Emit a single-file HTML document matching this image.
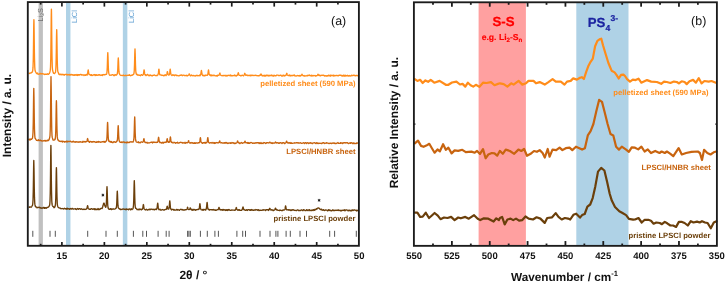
<!DOCTYPE html>
<html><head><meta charset="utf-8"><title>XRD and Raman</title>
<style>html,body{margin:0;padding:0;background:#fff;}body{width:725px;height:282px;overflow:hidden;font-family:"Liberation Sans",sans-serif;}svg{display:block;will-change:transform;}text{text-rendering:geometricPrecision;}</style>
</head><body>
<svg width="725" height="282" viewBox="0 0 725 282" font-family="Liberation Sans, sans-serif">
<rect width="725" height="282" fill="#fff"/>
<rect x="38.6" y="2.1" width="4.3" height="243.70000000000002" fill="#c0c0c0"/>
<rect x="66.0" y="2.1" width="4.45" height="243.70000000000002" fill="#afd2e6"/>
<rect x="122.85" y="2.1" width="4.5" height="243.70000000000002" fill="#afd2e6"/>
<text transform="translate(42.6,21.5) rotate(-90)" font-size="7.3" fill="#707070">Li<tspan font-size="5.2" dy="1.6">2</tspan><tspan dy="-1.6">S</tspan></text>
<text transform="translate(76.7,23) rotate(-90)" font-size="7.5" fill="#5f9fd2">LiCl</text>
<text transform="translate(133.8,23) rotate(-90)" font-size="7.5" fill="#5f9fd2">LiCl</text>
<line x1="32.8" y1="230.8" x2="32.8" y2="236.8" stroke="#555" stroke-width="1"/>
<line x1="50.0" y1="230.8" x2="50.0" y2="236.8" stroke="#555" stroke-width="1"/>
<line x1="55.3" y1="230.8" x2="55.3" y2="236.8" stroke="#555" stroke-width="1"/>
<line x1="87.7" y1="230.8" x2="87.7" y2="236.8" stroke="#555" stroke-width="1"/>
<line x1="106.0" y1="230.8" x2="106.0" y2="236.8" stroke="#555" stroke-width="1"/>
<line x1="117.3" y1="230.8" x2="117.3" y2="236.8" stroke="#555" stroke-width="1"/>
<line x1="133.4" y1="230.8" x2="133.4" y2="236.8" stroke="#555" stroke-width="1"/>
<line x1="142.8" y1="230.8" x2="142.8" y2="236.8" stroke="#555" stroke-width="1"/>
<line x1="146.5" y1="230.8" x2="146.5" y2="236.8" stroke="#555" stroke-width="1"/>
<line x1="158.1" y1="230.8" x2="158.1" y2="236.8" stroke="#555" stroke-width="1"/>
<line x1="166.2" y1="230.8" x2="166.2" y2="236.8" stroke="#555" stroke-width="1"/>
<line x1="169.1" y1="230.8" x2="169.1" y2="236.8" stroke="#555" stroke-width="1"/>
<line x1="187.6" y1="230.8" x2="187.6" y2="236.8" stroke="#555" stroke-width="1"/>
<line x1="188.9" y1="230.8" x2="188.9" y2="236.8" stroke="#555" stroke-width="1"/>
<line x1="190.3" y1="230.8" x2="190.3" y2="236.8" stroke="#555" stroke-width="1"/>
<line x1="200.4" y1="230.8" x2="200.4" y2="236.8" stroke="#555" stroke-width="1"/>
<line x1="207.3" y1="230.8" x2="207.3" y2="236.8" stroke="#555" stroke-width="1"/>
<line x1="214.9" y1="230.8" x2="214.9" y2="236.8" stroke="#555" stroke-width="1"/>
<line x1="218.4" y1="230.8" x2="218.4" y2="236.8" stroke="#555" stroke-width="1"/>
<line x1="236.9" y1="230.8" x2="236.9" y2="236.8" stroke="#555" stroke-width="1"/>
<line x1="242.7" y1="230.8" x2="242.7" y2="236.8" stroke="#555" stroke-width="1"/>
<line x1="245.5" y1="230.8" x2="245.5" y2="236.8" stroke="#555" stroke-width="1"/>
<line x1="260.0" y1="230.8" x2="260.0" y2="236.8" stroke="#555" stroke-width="1"/>
<line x1="270.0" y1="230.8" x2="270.0" y2="236.8" stroke="#555" stroke-width="1"/>
<line x1="275.9" y1="230.8" x2="275.9" y2="236.8" stroke="#555" stroke-width="1"/>
<line x1="277.9" y1="230.8" x2="277.9" y2="236.8" stroke="#555" stroke-width="1"/>
<line x1="286.1" y1="230.8" x2="286.1" y2="236.8" stroke="#555" stroke-width="1"/>
<line x1="290.3" y1="230.8" x2="290.3" y2="236.8" stroke="#555" stroke-width="1"/>
<line x1="300.0" y1="230.8" x2="300.0" y2="236.8" stroke="#555" stroke-width="1"/>
<line x1="306.5" y1="230.8" x2="306.5" y2="236.8" stroke="#555" stroke-width="1"/>
<line x1="329.7" y1="230.8" x2="329.7" y2="236.8" stroke="#555" stroke-width="1"/>
<line x1="334.6" y1="230.8" x2="334.6" y2="236.8" stroke="#555" stroke-width="1"/>
<line x1="356.3" y1="230.8" x2="356.3" y2="236.8" stroke="#555" stroke-width="1"/>
<polyline points="28.5,73.07 28.75,73.13 29,73.19 29.25,73.39 29.5,73.58 29.75,73.32 30,73.05 30.25,73.05 30.5,73.04 30.75,73.04 31,73.02 31.25,72.71 31.5,72.37 31.75,72.38 32,72.31 32.25,72.01 32.5,71.49 32.75,70.28 33,67.67 33.25,60.54 33.4,52.33 33.5,45.05 33.7,28.5 33.75,24.91 33.9,19.57 34,22.08 34.1,28.53 34.25,41.03 34.4,52.41 34.5,58.27 34.75,66.88 35,70.11 35.25,71.07 35.5,71.87 35.75,72.19 36,72.37 36.25,72.99 36.5,73.54 36.75,73.61 37,73.64 37.25,73.36 37.5,73.07 37.75,73.65 38,74.22 38.25,74.25 38.5,74.28 38.75,74.14 39,74 39.25,74.01 39.5,74.01 39.75,73.79 40,73.56 40.25,73.5 40.5,73.44 40.75,73.74 41,74.04 41.25,73.8 41.5,73.56 41.75,73.65 42,73.74 42.25,73.78 42.5,73.82 42.75,73.72 43,73.61 43.25,73.86 43.5,74.11 43.75,74.11 44,74.1 44.25,74.33 44.5,74.56 44.75,74.39 45,74.21 45.25,74.27 45.5,74.33 45.75,74.25 46,74.16 46.25,74.24 46.5,74.31 46.75,74.18 47,74.04 47.25,73.91 47.5,73.77 47.75,74.12 48,74.46 48.25,74.38 48.5,74.29 48.75,74.07 49,73.82 49.25,73.52 49.5,73.13 49.75,72.45 50,71.51 50.25,70.4 50.5,67.24 50.75,58.61 50.9,48.7 51,39.9 51.2,19.93 51.25,15.6 51.4,9.14 51.5,12.15 51.6,19.92 51.75,34.97 51.9,48.68 52,55.73 52.25,66.07 52.5,69.93 52.75,71.08 53,71.73 53.25,72.59 53.5,73.27 53.75,73.25 54,73.16 54.25,73.43 54.5,73.64 54.75,73.27 55,72.8 55.25,72.72 55.5,72.3 55.75,70.05 56,65.19 56.2,56.74 56.25,53.86 56.5,36.98 56.7,29.58 56.75,30.12 56.9,37.02 57,43.89 57.2,56.85 57.25,59.44 57.5,67.9 57.75,71.19 58,71.9 58.25,72.65 58.5,73.16 58.75,73.81 59,74.39 59.25,74.29 59.5,74.16 59.75,74.53 60,74.88 60.25,74.62 60.5,74.34 60.75,74.2 61,74.05 61.25,74.39 61.5,74.72 61.75,74.82 62,74.92 62.25,74.66 62.5,74.4 62.75,74.31 63,74.22 63.25,74.37 63.5,74.51 63.75,74.87 64,75.23 64.25,75.12 64.5,75.01 64.75,74.67 65,74.32 65.25,74.4 65.5,74.48 65.75,74.4 66,74.33 66.25,74.31 66.5,74.3 66.75,74.71 67,75.12 67.25,74.78 67.5,74.44 67.75,74.66 68,74.87 68.25,74.81 68.5,74.76 68.75,74.62 69,74.48 69.25,74.78 69.5,75.08 69.75,74.76 70,74.43 70.25,74.72 70.5,75 70.75,74.71 71,74.43 71.25,74.6 71.5,74.77 71.75,74.66 72,74.55 72.25,74.58 72.5,74.61 72.75,75 73,75.39 73.25,75.3 73.5,75.21 73.75,74.94 74,74.67 74.25,74.99 74.5,75.31 74.75,74.94 75,74.58 75.25,74.68 75.5,74.78 75.75,75.04 76,75.29 76.25,75.18 76.5,75.06 76.75,74.77 77,74.47 77.25,74.96 77.5,75.46 77.75,75.03 78,74.61 78.25,74.63 78.5,74.66 78.75,74.95 79,75.23 79.25,74.99 79.5,74.75 79.75,74.73 80,74.71 80.25,74.59 80.5,74.47 80.75,74.48 81,74.5 81.25,74.77 81.5,75.04 81.75,74.85 82,74.67 82.25,74.87 82.5,75.07 82.75,74.94 83,74.81 83.25,74.86 83.5,74.91 83.75,75.18 84,75.46 84.25,75.2 84.5,74.94 84.75,74.98 85,75.03 85.25,75.18 85.5,75.34 85.75,74.95 86,74.56 86.25,74.52 86.5,74.48 86.75,74.84 87,75.17 87.25,74.52 87.5,73.98 87.7,73.03 87.75,72.7 88,70.81 88.2,69.98 88.25,70.04 88.4,70.81 88.5,71.58 88.7,73.04 88.75,73.33 89,74.28 89.25,74.64 89.5,74.51 89.75,74.55 90,74.56 90.25,74.89 90.5,75.22 90.75,75.34 91,75.47 91.25,75.07 91.5,74.67 91.75,75.09 92,75.51 92.25,75.48 92.5,75.45 92.75,75.3 93,75.15 93.25,75.05 93.5,74.96 93.75,74.78 94,74.61 94.25,74.58 94.5,74.55 94.75,75.06 95,75.57 95.25,75.17 95.5,74.77 95.75,75.03 96,75.29 96.25,75.05 96.5,74.8 96.75,75.12 97,75.43 97.25,75.31 97.5,75.18 97.75,75.02 98,74.85 98.25,74.79 98.5,74.72 98.75,75.02 99,75.33 99.25,74.97 99.5,74.61 99.75,74.7 100,74.79 100.25,74.97 100.5,75.15 100.75,75.31 101,75.47 101.25,75.34 101.5,75.21 101.75,75.02 102,74.83 102.25,75.18 102.5,75.53 102.75,75.13 103,74.73 103.25,74.62 103.5,74.51 103.75,74.63 104,74.76 104.25,74.84 104.5,74.91 104.75,74.67 105,74.42 105.25,74.44 105.5,74.44 105.75,74.46 106,74.44 106.25,74.36 106.5,74.16 106.75,73.46 107,71.81 107.25,67.57 107.3,66.27 107.5,59.76 107.6,56.31 107.75,52.84 107.8,52.58 108,56.31 108.25,64.82 108.3,66.27 108.5,70.54 108.75,73.01 109,73.76 109.25,74.44 109.5,74.96 109.75,75.16 110,75.32 110.25,75.21 110.5,75.09 110.75,75.15 111,75.21 111.25,75.17 111.5,75.14 111.75,74.91 112,74.68 112.25,74.63 112.5,74.58 112.75,74.58 113,74.57 113.25,75.07 113.5,75.56 113.75,75.44 114,75.33 114.25,75.47 114.5,75.6 114.75,75.08 115,74.54 115.25,74.86 115.5,75.18 115.75,75.06 116,74.93 116.25,75 116.5,75.04 116.75,74.67 117,74.21 117.25,73.94 117.5,72.68 117.75,69.43 117.8,68.44 118,63.46 118.1,60.82 118.25,58.17 118.3,57.97 118.5,60.83 118.75,67.33 118.8,68.45 119,71.71 119.25,73.6 119.5,73.83 119.75,74.39 120,74.82 120.25,75.04 120.5,75.23 120.75,75.38 121,75.51 121.25,75.45 121.5,75.39 121.75,75.39 122,75.39 122.25,75.45 122.5,75.51 122.75,75.59 123,75.67 123.25,75.36 123.5,75.06 123.75,75.25 124,75.43 124.25,75.56 124.5,75.68 124.75,75.67 125,75.65 125.25,75.4 125.5,75.16 125.75,75.36 126,75.57 126.25,75.61 126.5,75.65 126.75,75.49 127,75.33 127.25,75.36 127.5,75.39 127.75,75.25 128,75.12 128.25,75.22 128.5,75.33 128.75,75.34 129,75.35 129.25,75.06 129.5,74.76 129.75,75.06 130,75.36 130.25,75.55 130.5,75.73 130.75,75.66 131,75.58 131.25,75.48 131.5,75.37 131.75,75.16 132,74.93 132.25,75.08 132.5,75.21 132.75,75.04 133,74.84 133.25,74.61 133.5,74.29 133.75,74.1 134,73.07 134.25,70.71 134.5,64.9 134.75,55.22 134.8,53.25 135,48.88 135.2,53.25 135.25,55.22 135.5,64.9 135.75,70.71 136,73.08 136.25,73.86 136.5,74.63 136.75,74.48 137,74.25 137.25,74.67 137.5,75.07 137.75,75.06 138,75.05 138.25,74.94 138.5,74.84 138.75,75.12 139,75.39 139.25,75.3 139.5,75.2 139.75,75.27 140,75.34 140.25,75.52 140.5,75.69 140.75,75.32 141,74.96 141.25,74.82 141.5,74.68 141.75,74.83 142,74.97 142.25,75.15 142.5,75.32 142.75,75 143,74.94 143.25,74.61 143.5,73.75 143.6,73.16 143.75,72.02 143.9,70.76 144,70.11 144.1,69.86 144.25,70.4 144.3,70.76 144.5,72.43 144.6,73.16 144.75,73.99 145,74.71 145.25,74.98 145.5,74.72 145.75,75.18 146,75.62 146.25,75.18 146.5,75.16 146.75,75.06 146.9,74.94 147,74.82 147.2,74.57 147.25,74.51 147.4,74.43 147.5,74.47 147.6,74.58 147.75,74.78 147.9,74.97 148,75.06 148.25,75.21 148.5,75.26 148.75,75.47 149,75.73 149.25,75.43 149.5,75.13 149.75,75.32 150,75.51 150.25,75.25 150.5,75 150.75,75.13 151,75.26 151.25,75.47 151.5,75.68 151.75,75.74 152,75.8 152.25,75.78 152.5,75.76 152.75,75.49 153,75.22 153.25,75.33 153.5,75.43 153.75,75.29 154,75.14 154.25,75.04 154.5,74.94 154.75,75.13 155,75.33 155.25,75.51 155.5,75.69 155.75,75.69 156,75.69 156.25,75.6 156.5,75.51 156.75,75.62 157,75.72 157.25,75.31 157.5,74.87 157.75,74.99 158,74.68 158.25,73.85 158.4,72.9 158.5,72.05 158.7,70.12 158.75,69.7 158.9,69.08 159,69.37 159.1,70.12 159.25,71.57 159.4,72.9 159.5,73.58 159.75,74.58 160,74.95 160.25,74.95 160.5,74.93 160.75,74.94 161,74.94 161.25,75.08 161.5,75.2 161.75,75.33 162,75.46 162.25,75.39 162.5,75.33 162.75,75.23 163,75.14 163.25,75.43 163.5,75.71 163.75,75.79 164,75.87 164.25,75.57 164.5,75.28 164.75,75.06 165,74.85 165.25,74.81 165.5,74.77 165.75,75.2 166,75.62 166.25,75.13 166.5,74.95 166.75,74.46 166.9,73.89 167,73.38 167.2,72.24 167.25,71.99 167.4,71.62 167.5,71.79 167.6,72.22 167.75,73.07 167.9,73.84 168,74.24 168.25,74.8 168.5,74.98 168.75,75.16 169,74.95 169.25,74.73 169.5,74.08 169.7,72.94 169.75,72.55 170,70.25 170.2,69.25 170.25,69.32 170.4,70.27 170.5,71.2 170.7,72.97 170.75,73.33 171,74.48 171.25,74.93 171.5,74.9 171.75,75.25 172,75.57 172.25,75.18 172.5,74.78 172.75,74.87 173,74.95 173.25,75.13 173.5,75.32 173.75,75.09 174,74.86 174.25,75.31 174.5,75.76 174.75,75.43 175,75.11 175.25,75.06 175.5,75.01 175.75,74.96 176,74.91 176.25,75.24 176.5,75.56 176.75,75.46 177,75.36 177.25,75.46 177.5,75.57 177.75,75.58 178,75.6 178.25,75.68 178.5,75.77 178.75,75.85 179,75.93 179.25,75.78 179.5,75.64 179.75,75.37 180,75.1 180.25,75.26 180.5,75.41 180.75,75.25 181,75.08 181.25,74.99 181.5,74.9 181.75,75.16 182,75.41 182.25,75.54 182.5,75.68 182.75,75.38 183,75.09 183.25,75.14 183.5,75.19 183.75,75.23 184,75.27 184.25,75.47 184.5,75.66 184.75,75.56 185,75.47 185.25,75.52 185.5,75.57 185.75,75.65 186,75.72 186.25,75.52 186.5,75.32 186.75,75.54 187,75.75 187.25,75.81 187.5,75.86 187.75,75.39 188,75.37 188.25,75.31 188.5,75.14 188.7,74.84 188.75,74.74 189,74.15 189.2,73.89 189.25,73.91 189.4,74.15 189.5,74.39 189.7,74.84 189.75,74.93 190,75.23 190.25,75.35 190.5,75.87 190.75,75.77 191,75.67 191.25,75.35 191.5,75.03 191.75,75.22 192,75.4 192.25,75.5 192.5,75.59 192.75,75.75 193,75.91 193.25,75.62 193.5,75.33 193.75,75.43 194,75.54 194.25,75.71 194.5,75.88 194.75,75.84 195,75.79 195.25,75.87 195.5,75.95 195.75,75.69 196,75.42 196.25,75.53 196.5,75.63 196.75,75.38 197,75.14 197.25,75.42 197.5,75.7 197.75,75.75 198,75.8 198.25,75.69 198.5,75.59 198.75,75.62 199,75.65 199.25,75.36 199.5,75.06 199.75,75.4 200,75.72 200.25,75.18 200.5,74.94 200.75,74.28 200.9,73.52 201,72.84 201.2,71.31 201.25,70.98 201.4,70.49 201.5,70.72 201.6,71.31 201.75,72.46 201.9,73.51 202,74.06 202.25,74.85 202.5,75.14 202.75,75.54 203,75.36 203.25,75.54 203.5,75.7 203.75,75.46 204,75.21 204.25,75.55 204.5,75.88 204.75,75.85 205,75.82 205.25,75.54 205.5,75.25 205.75,75.1 206,74.94 206.25,75.13 206.5,75.3 206.75,75.33 207,75.34 207.25,75.37 207.5,75.02 207.75,74.51 208,73.28 208.25,71.23 208.3,70.81 208.5,69.89 208.7,70.81 208.75,71.23 209,73.29 209.25,74.52 209.5,75.02 209.75,74.94 210,74.78 210.25,75.26 210.5,75.72 210.75,75.34 211,74.94 211.25,75.36 211.5,75.78 211.75,75.44 212,75.1 212.25,75.2 212.5,75.29 212.75,75.54 213,75.79 213.25,75.44 213.5,75.09 213.75,75.09 214,75.1 214.25,75.3 214.5,75.51 214.75,75.62 215,75.73 215.25,75.8 215.5,75.86 215.75,75.78 216,75.7 216.25,75.84 216.5,75.98 216.75,75.72 217,75.47 217.25,75.72 217.5,75.96 217.75,75.48 218,74.99 218.25,75.05 218.5,75.1 218.75,75.35 219,75.23 219.25,74.9 219.4,74.52 219.5,74.18 219.7,73.41 219.75,73.24 219.9,72.99 220,73.11 220.1,73.41 220.25,73.99 220.4,74.52 220.5,74.79 220.75,75.19 221,75.34 221.25,75.41 221.5,75.68 221.75,75.66 222,75.62 222.25,75.57 222.5,75.51 222.75,75.69 223,75.87 223.25,75.72 223.5,75.57 223.75,75.43 224,75.3 224.25,75.34 224.5,75.38 224.75,75.63 225,75.89 225.25,75.92 225.5,75.95 225.75,75.57 226,75.19 226.25,75.55 226.5,75.9 226.75,75.97 227,76.03 227.25,75.79 227.5,75.54 227.75,75.57 228,75.6 228.25,75.39 228.5,75.19 228.75,75.37 229,75.56 229.25,75.54 229.5,75.52 229.75,75.58 230,75.64 230.25,75.32 230.5,75 230.75,75.52 231,76.04 231.25,75.79 231.5,75.54 231.75,75.47 232,75.41 232.25,75.63 232.5,75.85 232.75,75.72 233,75.59 233.25,75.55 233.5,75.51 233.75,75.62 234,75.73 234.25,75.38 234.5,75.03 234.75,75.29 235,75.55 235.25,75.48 235.5,75.4 235.75,75.7 236,75.99 236.25,75.96 236.5,75.92 236.75,75.54 237,75.14 237.25,75.32 237.5,75.11 237.75,74.58 237.8,74.41 238,73.59 238.1,73.16 238.25,72.73 238.3,72.69 238.5,73.16 238.75,74.23 238.8,74.41 239,74.95 239.25,75.26 239.5,75.37 239.75,75.18 240,75.37 240.25,75.6 240.5,75.82 240.75,75.88 241,75.93 241.25,75.7 241.5,75.47 241.75,75.38 242,75.3 242.25,75.22 242.5,75.15 242.75,75.38 243,75.6 243.25,75.75 243.5,75.89 243.75,75.36 244,75.2 244.25,74.78 244.3,74.65 244.5,74 244.6,73.66 244.75,73.32 244.8,73.29 245,73.66 245.25,74.51 245.3,74.65 245.5,75.08 245.75,75.32 246,75.41 246.25,75.34 246.5,74.95 246.75,75.06 247,75.16 247.25,75.19 247.5,75.22 247.75,75.47 248,75.73 248.25,75.53 248.5,75.33 248.75,75.35 249,75.37 249.25,75.52 249.5,75.67 249.75,75.39 250,75.1 250.25,75.45 250.5,75.79 250.75,75.46 251,75.13 251.25,75.34 251.5,75.55 251.75,75.41 252,75.27 252.25,75.24 252.5,75.21 252.75,75.4 253,75.58 253.25,75.53 253.5,75.48 253.75,75.44 254,75.41 254.25,75.43 254.5,75.45 254.75,75.52 255,75.58 255.25,75.38 255.5,75.17 255.75,75.2 256,75.22 256.25,75.46 256.5,75.69 256.75,75.69 257,75.7 257.25,75.64 257.5,75.58 257.75,75.75 258,75.93 258.25,75.79 258.5,75.66 258.75,75.79 259,75.92 259.25,75.56 259.5,75.21 259.75,75.46 260,75.42 260.25,75.29 260.5,74.94 260.75,74.37 260.8,74.25 261,74 261.2,74.26 261.25,74.37 261.5,74.94 261.75,75.29 262,75.43 262.25,75.87 262.5,75.95 262.75,75.64 263,75.32 263.25,75.33 263.5,75.34 263.75,75.67 264,76.01 264.25,75.63 264.5,75.24 264.75,75.67 265,76.1 265.25,76.04 265.5,75.98 265.75,75.57 266,75.16 266.25,75.21 266.5,75.27 266.75,75.54 267,75.81 267.25,75.55 267.5,75.3 267.75,75.21 268,75.12 268.25,75.52 268.5,75.93 268.75,75.7 269,75.48 269.25,75.68 269.5,75.88 269.75,75.52 270,75.15 270.25,75.31 270.5,75.46 270.75,75.62 271,75.77 271.25,75.4 271.5,75.04 271.75,75.14 272,75.24 272.25,75.5 272.5,75.77 272.75,75.9 273,76.02 273.25,76.05 273.5,76.09 273.75,75.62 274,75.15 274.25,75.36 274.5,75.58 274.75,75.72 275,75.86 275.25,75.71 275.5,75.57 275.75,75.68 276,75.78 276.25,75.5 276.5,75.23 276.75,75.17 277,75.1 277.25,75.12 277.5,75.14 277.75,75.1 278,75.06 278.25,75.35 278.5,75.63 278.75,75.61 279,75.59 279.25,75.62 279.5,75.65 279.75,75.42 280,75.18 280.25,75.21 280.5,75.23 280.75,75.24 281,75.25 281.25,75.6 281.5,75.95 281.75,76.03 282,76.11 282.25,76.08 282.5,76.04 282.75,75.58 283,75.12 283.25,75.1 283.5,75.08 283.75,75.57 284,76.05 284.25,75.78 284.5,75.5 284.75,75.66 285,75.82 285.25,75.56 285.5,75.28 285.75,75.41 286,75.24 286.25,74.81 286.3,74.68 286.5,74.02 286.6,73.68 286.75,73.33 286.8,73.3 287,73.68 287.25,74.54 287.3,74.68 287.5,75.12 287.75,75.37 288,75.46 288.25,75.47 288.5,75.44 288.75,75.55 289,75.66 289.25,75.34 289.5,75.03 289.75,75.41 290,75.79 290.25,75.87 290.5,75.95 290.75,75.59 291,75.23 291.25,75.38 291.5,75.53 291.75,75.69 292,75.85 292.25,75.66 292.5,75.48 292.75,75.36 293,75.25 293.25,75.23 293.5,75.22 293.75,75.41 294,75.6 294.25,75.33 294.5,75.05 294.75,75.54 295,76.02 295.25,75.97 295.5,75.92 295.75,75.87 296,75.81 296.25,75.9 296.5,75.99 296.75,75.86 297,75.73 297.25,75.61 297.5,75.48 297.75,75.59 298,75.7 298.25,75.64 298.5,75.59 298.75,75.85 299,76.11 299.25,76.02 299.5,75.91 299.75,75.61 300,75.3 300.25,75.66 300.5,76 300.75,75.89 301,75.49 301.25,75.37 301.5,75.09 301.75,74.61 301.8,74.51 302,74.3 302.2,74.51 302.25,74.61 302.5,75.09 302.75,75.37 303,75.49 303.25,75.86 303.5,75.9 303.75,75.68 304,75.47 304.25,75.74 304.5,76.02 304.75,76.01 305,76 305.25,75.9 305.5,75.8 305.75,75.84 306,75.88 306.25,75.88 306.5,75.88 306.75,75.69 307,75.49 307.25,75.66 307.5,75.84 307.75,75.48 308,75.12 308.25,75.27 308.5,75.42 308.75,75.49 309,75.56 309.25,75.31 309.5,75.06 309.75,75.25 310,75.44 310.25,75.59 310.5,75.75 310.75,75.74 311,75.73 311.25,75.52 311.5,75.3 311.75,75.69 312,76.08 312.25,75.93 312.5,75.78 312.75,75.6 313,75.42 313.25,75.59 313.5,75.77 313.75,75.72 314,75.67 314.25,75.65 314.5,75.63 314.75,75.55 315,75.46 315.25,75.8 315.5,76.13 315.75,75.93 316,75.73 316.25,75.75 316.5,75.77 316.75,75.79 317,75.49 317.25,75.37 317.5,75.09 317.75,74.61 317.8,74.51 318,74.3 318.2,74.51 318.25,74.61 318.5,75.09 318.75,75.37 319,75.49 319.25,75.53 319.5,75.03 319.75,75.36 320,75.7 320.25,75.77 320.5,75.84 320.75,75.58 321,75.32 321.25,75.4 321.5,75.48 321.75,75.29 322,75.1 322.25,75.18 322.5,75.26 322.75,75.36 323,75.46 323.25,75.31 323.5,75.15 323.75,75.24 324,75.32 324.25,75.68 324.5,76.04 324.75,75.85 325,75.65 325.25,75.63 325.5,75.61 325.75,75.86 326,76.11 326.25,75.89 326.5,75.67 326.75,75.91 327,76.14 327.25,75.95 327.5,75.75 327.75,75.84 328,75.94 328.25,75.54 328.5,75.13 328.75,75.42 329,75.71 329.25,75.79 329.5,75.88 329.75,75.49 330,75.1 330.25,75.58 330.5,76.07 330.75,75.65 331,75.22 331.25,75.4 331.5,75.57 331.75,75.4 332,75.23 332.25,75.41 332.5,75.59 332.75,75.66 333,75.72 333.25,75.42 333.5,75.11 333.75,75.6 334,76.09 334.25,75.8 334.5,75.51 334.75,75.57 335,75.63 335.25,75.67 335.5,75.71 335.75,75.58 336,75.45 336.25,75.41 336.5,75.36 336.75,75.57 337,75.77 337.25,75.72 337.5,75.67 337.75,75.51 338,75.36 338.25,75.6 338.5,75.84 338.75,75.61 339,75.37 339.25,75.22 339.5,75.06 339.75,75.19 340,75.32 340.25,75.21 340.5,75.1 340.75,75.16 341,75.22 341.25,75.55 341.5,75.88 341.75,75.68 342,75.48 342.25,75.76 342.5,76.04 342.75,75.95 343,75.87 343.25,75.49 343.5,75.1 343.75,75.62 344,76.14 344.25,76.11 344.5,76.09 344.75,75.61 345,75.13 345.25,75.59 345.5,76.05 345.75,75.78 346,75.52 346.25,75.55 346.5,75.57 346.75,75.85 347,76.12 347.25,75.72 347.5,75.32 347.75,75.47 348,75.62 348.25,75.85 348.5,76.08 348.75,75.96 349,75.84 349.25,75.7 349.5,75.56 349.75,75.85 350,76.13 350.25,76.04 350.5,75.95 350.75,75.83 351,75.71 351.25,75.44 351.5,75.18 351.75,75.46 352,75.74 352.25,75.64 352.5,75.55 352.75,75.41 353,75.27 353.25,75.19 353.5,75.11 353.75,75.37 354,75.63 354.25,75.41 354.5,75.19 354.75,75.36 355,75.54 355.25,75.66 355.5,75.78 355.75,75.67 356,75.55 356.25,75.44 356.5,75.34 356.75,75.51 357,75.69 357.25,75.6 357.5,75.51 357.75,75.71 358,75.91 358.25,75.77" fill="none" stroke="#ff8c1a" stroke-width="1.35" stroke-linejoin="round"/>
<polyline points="28.5,140.13 28.75,139.68 29,139.23 29.25,139.16 29.5,139.09 29.75,139.62 30,140.14 30.25,139.66 30.5,139.18 30.75,139.1 31,138.99 31.25,139.19 31.5,139.35 31.75,138.99 32,138.55 32.25,138.43 32.5,138.04 32.75,136.2 33,132.44 33.25,122.72 33.3,119.74 33.5,104.82 33.6,96.92 33.75,88.98 33.8,88.37 34,96.95 34.25,116.47 34.3,119.81 34.5,129.61 34.75,135.29 35,137.88 35.25,138.45 35.5,138.64 35.75,139.15 36,139.57 36.25,139.93 36.5,140.25 36.75,140.22 37,140.18 37.25,140.38 37.5,140.57 37.75,140.5 38,140.43 38.25,140.1 38.5,139.77 38.75,140.26 39,140.75 39.25,140.61 39.5,140.48 39.75,140.35 40,140.21 40.25,140.16 40.5,140.12 40.75,140.5 41,140.87 41.25,140.74 41.5,140.61 41.75,140.82 42,141.03 42.25,140.95 42.5,140.87 42.75,140.98 43,141.09 43.25,140.89 43.5,140.68 43.75,140.76 44,140.83 44.25,140.79 44.5,140.75 44.75,140.56 45,140.36 45.25,140.74 45.5,141.13 45.75,140.77 46,140.4 46.25,140.65 46.5,140.89 46.75,140.96 47,141.03 47.25,140.83 47.5,140.61 47.75,140.27 48,139.91 48.25,140.18 48.5,140.42 48.75,140.14 49,139.79 49.25,139.14 49.5,138.29 49.75,137.23 50,135.53 50.25,129.77 50.5,115.61 50.75,92.01 50.8,87.2 51,76.56 51.2,87.21 51.25,92.01 51.5,115.61 51.75,129.78 52,135.54 52.25,137.41 52.5,138.12 52.75,139.18 53,140.04 53.25,140.05 53.5,139.97 53.75,140.06 54,140.08 54.25,139.99 54.5,139.81 54.75,139.73 55,139.48 55.25,138.54 55.5,136.62 55.75,131.31 55.9,125.18 56,119.73 56.2,107.36 56.25,104.68 56.4,100.7 56.5,102.57 56.6,107.41 56.75,116.78 56.9,125.3 57,129.7 57.25,136.15 57.5,138.58 57.75,139.37 58,139.93 58.25,140.38 58.5,140.73 58.75,140.74 59,140.71 59.25,140.98 59.5,141.23 59.75,141.27 60,141.3 60.25,141.28 60.5,141.25 60.75,141.41 61,141.57 61.25,141.51 61.5,141.45 61.75,141.23 62,141 62.25,141.52 62.5,142.03 62.75,141.69 63,141.35 63.25,141.4 63.5,141.45 63.75,141.44 64,141.44 64.25,141.73 64.5,142.03 64.75,142.05 65,142.07 65.25,141.84 65.5,141.6 65.75,141.54 66,141.49 66.25,141.33 66.5,141.17 66.75,141.61 67,142.06 67.25,141.66 67.5,141.27 67.75,141.48 68,141.69 68.25,141.59 68.5,141.48 68.75,141.48 69,141.47 69.25,141.49 69.5,141.51 69.75,141.42 70,141.33 70.25,141.25 70.5,141.17 70.75,141.45 71,141.73 71.25,141.88 71.5,142.02 71.75,141.95 72,141.87 72.25,141.63 72.5,141.38 72.75,141.66 73,141.93 73.25,141.58 73.5,141.23 73.75,141.43 74,141.64 74.25,141.87 74.5,142.1 74.75,142.16 75,142.21 75.25,141.96 75.5,141.71 75.75,141.93 76,142.14 76.25,141.95 76.5,141.76 76.75,141.78 77,141.8 77.25,141.84 77.5,141.87 77.75,142.1 78,142.33 78.25,142.19 78.5,142.06 78.75,141.91 79,141.77 79.25,141.91 79.5,142.05 79.75,142.01 80,141.97 80.25,141.81 80.5,141.65 80.75,141.89 81,142.13 81.25,142.15 81.5,142.18 81.75,142.06 82,141.95 82.25,142.13 82.5,142.32 82.75,141.81 83,141.31 83.25,141.57 83.5,141.84 83.75,141.91 84,141.99 84.25,141.83 84.5,141.66 84.75,141.57 85,141.47 85.25,141.75 85.5,142.03 85.75,141.87 86,141.71 86.25,141.58 86.5,141.67 86.75,141.47 87,140.95 87.1,140.59 87.25,139.89 87.4,139.13 87.5,138.74 87.6,138.58 87.75,138.91 87.8,139.13 88,140.15 88.1,140.6 88.25,141.11 88.5,141.55 88.75,141.71 89,141.28 89.25,141.83 89.5,142.36 89.75,142.04 90,141.72 90.25,141.6 90.5,141.48 90.75,141.55 91,141.61 91.25,141.63 91.5,141.66 91.75,142 92,142.34 92.25,141.97 92.5,141.6 92.75,141.65 93,141.71 93.25,141.61 93.5,141.52 93.75,141.73 94,141.94 94.25,141.79 94.5,141.65 94.75,141.73 95,141.81 95.25,142.03 95.5,142.24 95.75,142.35 96,142.46 96.25,142.41 96.5,142.36 96.75,141.93 97,141.49 97.25,141.68 97.5,141.87 97.75,142.13 98,142.39 98.25,141.95 98.5,141.5 98.75,141.6 99,141.69 99.25,141.85 99.5,142.01 99.75,141.95 100,141.89 100.25,142.1 100.5,142.3 100.75,142.28 101,142.26 101.25,142.12 101.5,141.98 101.75,141.86 102,141.74 102.25,141.73 102.5,141.72 102.75,141.73 103,141.75 103.25,141.63 103.5,141.51 103.75,141.83 104,142.15 104.25,141.85 104.5,141.55 104.75,141.92 105,142.29 105.25,142.1 105.5,141.89 105.75,141.47 106,140.99 106.25,141 106.5,140.78 106.75,139.61 107,136.48 107.1,134.34 107.25,130.2 107.4,125.64 107.5,123.29 107.6,122.38 107.75,124.33 107.8,125.64 108,131.69 108.1,134.35 108.25,137.35 108.5,139.97 108.75,140.93 109,141.44 109.25,141.35 109.5,141.19 109.75,141.53 110,141.84 110.25,141.65 110.5,141.44 110.75,141.87 111,142.3 111.25,141.9 111.5,141.5 111.75,141.86 112,142.22 112.25,142.42 112.5,142.62 112.75,142.55 113,142.48 113.25,142.14 113.5,141.81 113.75,141.97 114,142.13 114.25,141.91 114.5,141.69 114.75,141.79 115,141.88 115.25,142.15 115.5,142.41 115.75,142.35 116,142.27 116.25,141.76 116.5,141.21 116.75,141.25 117,141.16 117.25,140.63 117.5,138.82 117.7,135.67 117.75,134.6 118,128.32 118.2,125.57 118.25,125.77 118.4,128.33 118.5,130.88 118.7,135.68 118.75,136.65 119,139.78 119.25,141 119.5,141.11 119.75,141.69 120,142.18 120.25,142.32 120.5,142.44 120.75,142.3 121,142.16 121.25,142.08 121.5,142 121.75,142.29 122,142.57 122.25,142.4 122.5,142.23 122.75,142.06 123,141.89 123.25,141.95 123.5,142 123.75,141.95 124,141.89 124.25,142.26 124.5,142.64 124.75,142.47 125,142.29 125.25,142.39 125.5,142.5 125.75,142.57 126,142.64 126.25,142.73 126.5,142.81 126.75,142.38 127,141.95 127.25,142.07 127.5,142.19 127.75,142.45 128,142.71 128.25,142.64 128.5,142.58 128.75,142.37 129,142.16 129.25,142.31 129.5,142.45 129.75,142.19 130,141.93 130.25,141.9 130.5,141.88 130.75,141.8 131,141.72 131.25,141.88 131.5,142.04 131.75,141.92 132,141.8 132.25,141.89 132.5,141.97 132.75,142.1 133,142.18 133.25,141.48 133.5,140.97 133.75,139.96 134,137.19 134.2,132.39 134.25,130.75 134.5,121.18 134.7,116.98 134.75,117.29 134.9,121.19 135,125.07 135.2,132.4 135.25,133.86 135.5,138.64 135.75,140.5 136,141.27 136.25,141.79 136.5,142.17 136.75,142.17 137,142.13 137.25,142.17 137.5,142.19 137.75,142.36 138,142.53 138.25,142.15 138.5,141.76 138.75,142.29 139,142.82 139.25,142.69 139.5,142.55 139.75,142.63 140,142.7 140.25,142.72 140.5,142.73 140.75,142.34 141,141.94 141.25,141.92 141.5,141.9 141.75,141.95 142,142 142.25,142.16 142.5,142.3 142.75,142.22 143,142.04 143.25,141.54 143.4,140.97 143.5,140.45 143.7,139.29 143.75,139.04 143.9,138.66 144,138.84 144.1,139.3 144.25,140.18 144.4,140.98 144.5,141.39 144.75,142 145,142.23 145.25,142.5 145.5,142.27 145.75,142.42 146,142.56 146.25,142.64 146.5,142.72 146.75,142.51 147,142.29 147.25,142.65 147.5,143.01 147.75,143 148,142.99 148.25,142.87 148.5,142.76 148.75,142.86 149,142.96 149.25,142.91 149.5,142.86 149.75,142.78 150,142.7 150.25,142.52 150.5,142.34 150.75,142.32 151,142.3 151.25,142.28 151.5,142.26 151.75,142.16 152,142.06 152.25,142.54 152.5,143.02 152.75,142.68 153,142.33 153.25,142.18 153.5,142.03 153.75,142.2 154,142.36 154.25,142.24 154.5,142.12 154.75,142.31 155,142.49 155.25,142.43 155.5,142.36 155.75,142.27 156,142.17 156.25,142.33 156.5,142.47 156.75,142.41 157,142.34 157.25,142.24 157.5,142.25 157.75,141.93 158,141.09 158.1,140.51 158.25,139.39 158.4,138.16 158.5,137.53 158.6,137.28 158.75,137.81 158.8,138.17 159,139.8 159.1,140.52 159.25,141.33 159.5,142.04 159.75,142.3 160,142.75 160.25,142.54 160.5,142.3 160.75,142.45 161,142.6 161.25,142.8 161.5,143 161.75,143.05 162,143.1 162.25,142.79 162.5,142.47 162.75,142.29 163,142.11 163.25,142.61 163.5,143.11 163.75,142.87 164,142.63 164.25,142.47 164.5,142.3 164.75,142.24 165,142.18 165.25,142.22 165.5,142.26 165.75,142.26 166,142.44 166.25,142.28 166.5,141.84 166.7,141.08 166.75,140.82 167,139.3 167.2,138.64 167.25,138.69 167.4,139.3 167.5,139.91 167.7,141.06 167.75,141.29 168,142.03 168.25,142.3 168.5,141.99 168.75,141.96 169,141.88 169.25,142.29 169.5,142.03 169.75,141.28 169.9,140.42 170,139.65 170.2,137.9 170.25,137.52 170.4,136.96 170.5,137.22 170.6,137.91 170.75,139.24 170.9,140.45 171,141.07 171.25,141.99 171.5,142.33 171.75,142.44 172,142.12 172.25,142.37 172.5,142.61 172.75,142.81 173,143 173.25,142.86 173.5,142.7 173.75,142.48 174,142.24 174.25,142.4 174.5,142.56 174.75,142.58 175,142.61 175.25,142.91 175.5,143.21 175.75,143.03 176,142.85 176.25,142.79 176.5,142.72 176.75,142.82 177,142.92 177.25,142.6 177.5,142.29 177.75,142.64 178,142.99 178.25,143.06 178.5,143.13 178.75,143.06 179,142.99 179.25,142.82 179.5,142.65 179.75,142.61 180,142.57 180.25,142.42 180.5,142.27 180.75,142.32 181,142.36 181.25,142.4 181.5,142.44 181.75,142.61 182,142.78 182.25,142.96 182.5,143.14 182.75,142.83 183,142.52 183.25,142.67 183.5,142.81 183.75,142.9 184,142.99 184.25,142.99 184.5,142.99 184.75,142.65 185,142.32 185.25,142.81 185.5,143.31 185.75,143.12 186,142.93 186.25,142.77 186.5,142.61 186.75,142.57 187,142.52 187.25,142.74 187.5,142.73 187.75,142.6 188,142.26 188.1,142.02 188.25,141.56 188.4,141.05 188.5,140.79 188.6,140.69 188.75,140.91 188.8,141.05 189,141.73 189.1,142.03 189.25,142.36 189.5,142.66 189.75,142.76 190,143.29 190.25,142.99 190.5,142.68 190.75,142.72 191,142.76 191.25,142.86 191.5,142.95 191.75,142.75 192,142.54 192.25,142.67 192.5,142.8 192.75,143.09 193,143.37 193.25,143.18 193.5,142.98 193.75,143.13 194,143.28 194.25,142.97 194.5,142.66 194.75,143 195,143.33 195.25,143.29 195.5,143.24 195.75,142.93 196,142.63 196.25,142.8 196.5,142.96 196.75,143.04 197,143.12 197.25,143.06 197.5,142.99 197.75,143 198,143.01 198.25,142.79 198.5,142.57 198.75,142.7 199,142.82 199.25,142.66 199.5,142.4 199.75,141.7 199.9,140.9 200,140.18 200.2,138.56 200.25,138.21 200.4,137.69 200.5,137.93 200.6,138.56 200.75,139.78 200.9,140.9 201,141.47 201.25,142.31 201.5,142.62 201.75,142.84 202,142.67 202.25,143.05 202.5,143.41 202.75,143.21 203,143 203.25,142.81 203.5,142.63 203.75,142.73 204,142.84 204.25,142.68 204.5,142.52 204.75,142.85 205,143.18 205.25,142.79 205.5,142.4 205.75,142.68 206,142.96 206.25,142.76 206.5,142.52 206.75,142.58 207,142.19 207.25,141.17 207.3,140.86 207.5,139.3 207.6,138.48 207.75,137.65 207.8,137.59 208,138.48 208.25,140.52 208.3,140.87 208.5,141.89 208.75,142.48 209,142.69 209.25,142.68 209.5,143.04 209.75,143.1 210,143.14 210.25,142.89 210.5,142.64 210.75,142.6 211,142.55 211.25,142.69 211.5,142.83 211.75,142.98 212,143.14 212.25,142.93 212.5,142.72 212.75,142.58 213,142.45 213.25,142.68 213.5,142.92 213.75,143.13 214,143.33 214.25,142.97 214.5,142.62 214.75,143.05 215,143.48 215.25,143.24 215.5,143 215.75,142.81 216,142.62 216.25,142.58 216.5,142.55 216.75,142.69 217,142.84 217.25,142.89 217.5,142.94 217.75,142.77 218,142.59 218.25,142.52 218.5,142.89 218.75,142.81 219,142.58 219.2,142.18 219.25,142.04 219.5,141.24 219.7,140.89 219.75,140.92 219.9,141.24 220,141.57 220.2,142.18 220.25,142.3 220.5,142.7 220.75,142.85 221,142.91 221.25,142.81 221.5,142.69 221.75,142.81 222,142.92 222.25,142.93 222.5,142.94 222.75,143.08 223,143.22 223.25,143.15 223.5,143.09 223.75,142.9 224,142.71 224.25,142.68 224.5,142.66 224.75,143.03 225,143.41 225.25,142.96 225.5,142.52 225.75,142.56 226,142.6 226.25,142.57 226.5,142.54 226.75,142.96 227,143.38 227.25,143.22 227.5,143.06 227.75,143.27 228,143.49 228.25,143.32 228.5,143.16 228.75,143 229,142.84 229.25,142.89 229.5,142.94 229.75,143.11 230,143.28 230.25,143 230.5,142.73 230.75,143.04 231,143.36 231.25,143.14 231.5,142.92 231.75,142.72 232,142.52 232.25,142.68 232.5,142.85 232.75,142.97 233,143.09 233.25,142.86 233.5,142.63 233.75,143.05 234,143.46 234.25,143.47 234.5,143.48 234.75,143.25 235,143.02 235.25,143.23 235.5,143.44 235.75,143.31 236,143.17 236.25,143.07 236.5,142.89 236.75,142.77 237,142.45 237.1,142.23 237.25,141.8 237.4,141.33 237.5,141.09 237.6,140.99 237.75,141.2 237.8,141.33 238,141.95 238.1,142.23 238.25,142.54 238.5,142.81 238.75,142.91 239,142.57 239.25,143.03 239.5,143.48 239.75,143.47 240,143.46 240.25,143.21 240.5,142.96 240.75,142.92 241,142.89 241.25,142.72 241.5,142.55 241.75,142.84 242,143.14 242.25,143.27 242.5,143.4 242.75,143.14 243,142.87 243.25,142.81 243.5,142.74 243.75,142.89 244,142.88 244.25,142.72 244.5,142.31 244.75,141.64 244.8,141.5 245,141.19 245.2,141.5 245.25,141.64 245.5,142.31 245.75,142.72 246,142.88 246.25,142.93 246.5,142.61 246.75,142.69 247,142.76 247.25,142.97 247.5,143.17 247.75,142.85 248,142.52 248.25,142.95 248.5,143.38 248.75,143.11 249,142.83 249.25,143.12 249.5,143.4 249.75,143.2 250,142.99 250.25,142.83 250.5,142.67 250.75,142.59 251,142.51 251.25,142.57 251.5,142.62 251.75,142.7 252,142.78 252.25,143.06 252.5,143.33 252.75,143.35 253,143.37 253.25,143.28 253.5,143.19 253.75,143.01 254,142.84 254.25,143.03 254.5,143.23 254.75,143.27 255,143.31 255.25,143.11 255.5,142.91 255.75,142.75 256,142.59 256.25,142.8 256.5,143.02 256.75,142.88 257,142.75 257.25,142.73 257.5,142.71 257.75,142.82 258,142.93 258.25,142.76 258.5,142.59 258.75,143.04 259,143.49 259.25,143.15 259.5,142.81 259.75,143.15 260,143.49 260.25,143.41 260.5,143.32 260.75,142.92 261,142.52 261.25,143.01 261.5,143.5 261.75,143.45 262,143.4 262.25,143.24 262.5,143.09 262.75,143.28 263,143.48 263.25,143.26 263.5,143.03 263.75,142.79 264,142.54 264.25,142.6 264.5,142.67 264.75,142.76 265,142.85 265.25,143.15 265.5,143.45 265.75,143.44 266,143.42 266.25,143.03 266.5,142.64 266.75,142.76 267,142.89 267.25,142.75 267.5,142.62 267.75,142.68 268,142.74 268.25,142.8 268.5,142.86 268.75,142.99 269,142.92 269.25,142.74 269.3,142.68 269.5,142.4 269.6,142.26 269.75,142.11 269.8,142.1 270,142.26 270.25,142.62 270.3,142.68 270.5,142.87 270.75,142.97 271,143.01 271.25,142.92 271.5,143.21 271.75,142.99 272,142.76 272.25,143.12 272.5,143.48 272.75,143.25 273,143.03 273.25,143 273.5,142.96 273.75,143.14 274,143.32 274.25,143.07 274.5,142.98 274.75,142.88 275,142.65 275.25,142.25 275.3,142.17 275.5,141.99 275.7,142.17 275.75,142.25 276,142.65 276.25,142.88 276.5,142.98 276.75,142.67 277,142.62 277.25,142.72 277.5,142.82 277.75,142.8 278,142.77 278.25,143.04 278.5,143.32 278.75,143.11 279,142.91 279.25,143.1 279.5,143.3 279.75,143.06 280,142.82 280.25,142.71 280.5,142.6 280.75,142.73 281,142.86 281.25,142.9 281.5,142.95 281.75,143.24 282,143.52 282.25,143.13 282.5,142.74 282.75,142.74 283,142.75 283.25,142.72 283.5,142.68 283.75,142.73 284,142.78 284.25,143.17 284.5,143.55 284.75,143.52 285,143.49 285.25,143.08 285.5,142.95 285.75,142.83 286,142.52 286.1,142.3 286.25,141.88 286.4,141.43 286.5,141.19 286.6,141.1 286.75,141.29 286.8,141.43 287,142.03 287.1,142.3 287.25,142.6 287.5,142.87 287.75,142.96 288,142.51 288.25,142.77 288.5,143.03 288.75,143.09 289,143.15 289.25,142.9 289.5,142.64 289.75,142.81 290,142.98 290.25,143.18 290.5,143.37 290.75,142.95 291,142.53 291.25,142.93 291.5,143.32 291.75,143.31 292,143.29 292.25,143.34 292.5,143.4 292.75,143.24 293,143.07 293.25,143.06 293.5,143.05 293.75,143.08 294,143.11 294.25,142.9 294.5,142.69 294.75,142.9 295,143.11 295.25,142.96 295.5,142.81 295.75,142.85 296,142.9 296.25,142.74 296.5,142.59 296.75,142.66 297,142.72 297.25,142.66 297.5,142.61 297.75,142.87 298,143.14 298.25,142.97 298.5,142.81 298.75,142.98 299,143.16 299.25,143.13 299.5,143.1 299.75,142.95 300,142.8 300.25,142.75 300.5,142.69 300.75,142.95 301,143.2 301.25,143.25 301.5,143.29 301.75,143.3 302,143.31 302.25,143.21 302.5,143.11 302.75,143.15 303,143.19 303.25,142.88 303.5,142.58 303.75,142.73 304,142.89 304.25,143.16 304.5,143.43 304.75,143.2 305,142.96 305.25,142.81 305.5,142.66 305.75,142.84 306,143.01 306.25,143.24 306.5,143.47 306.75,143.06 307,142.66 307.25,142.66 307.5,142.67 307.75,142.88 308,143.1 308.25,143.3 308.5,143.51 308.75,143.24 309,142.98 309.25,142.9 309.5,142.82 309.75,143.11 310,143.39 310.25,143.02 310.5,142.65 310.75,142.76 311,142.87 311.25,143.04 311.5,143.21 311.75,143.35 312,143.48 312.25,143.49 312.5,143.5 312.75,143.2 313,142.91 313.25,142.87 313.5,142.84 313.75,142.9 314,142.95 314.25,142.82 314.5,142.68 314.75,142.77 315,142.85 315.25,143.12 315.5,143.39 315.75,143.51 316,143.63 316.25,143.24 316.5,142.85 316.75,142.74 317,142.63 317.25,143 317.5,143.36 317.75,143.49 318,143.61 318.25,143.52 318.5,143.42 318.75,143.21 319,143 319.25,143.19 319.5,143.37 319.75,143.38 320,143.39 320.25,143.38 320.5,143.37 320.75,143.23 321,143.09 321.25,143.37 321.5,143.65 321.75,143.53 322,143.41 322.25,143.11 322.5,142.81 322.75,142.92 323,143.02 323.25,142.84 323.5,142.65 323.75,142.8 324,142.96 324.25,143.2 324.5,143.45 324.75,143.27 325,143.08 325.25,143.11 325.5,143.13 325.75,143.27 326,143.41 326.25,143.03 326.5,142.65 326.75,142.79 327,142.94 327.25,143.01 327.5,143.08 327.75,143.09 328,143.09 328.25,143.2 328.5,143.3 328.75,143.44 329,143.58 329.25,143.51 329.5,143.43 329.75,143.29 330,143.15 330.25,143.23 330.5,143.3 330.75,143.22 331,143.14 331.25,143.39 331.5,143.63 331.75,143.42 332,143.21 332.25,143.2 332.5,143.2 332.75,143.09 333,142.98 333.25,143 333.5,143.01 333.75,143.2 334,143.39 334.25,143.17 334.5,142.96 334.75,143.25 335,143.54 335.25,143.45 335.5,143.35 335.75,143.48 336,143.6 336.25,143.46 336.5,143.33 336.75,143.25 337,143.18 337.25,143.06 337.5,142.95 337.75,142.76 338,142.57 338.25,142.92 338.5,143.28 338.75,143.33 339,143.38 339.25,143.36 339.5,143.34 339.75,143.36 340,143.38 340.25,142.99 340.5,142.59 340.75,142.95 341,143.3 341.25,143.08 341.5,142.86 341.75,142.92 342,142.98 342.25,143.24 342.5,143.5 342.75,143.25 343,142.99 343.25,143.03 343.5,143.06 343.75,142.83 344,142.61 344.25,142.68 344.5,142.75 344.75,142.76 345,142.78 345.25,142.78 345.5,142.79 345.75,142.96 346,143.12 346.25,142.86 346.5,142.6 346.75,142.62 347,142.65 347.25,142.65 347.5,142.64 347.75,143 348,143.36 348.25,143.49 348.5,143.62 348.75,143.5 349,143.37 349.25,143.25 349.5,143.12 349.75,142.9 350,142.69 350.25,143.05 350.5,143.41 350.75,143.05 351,142.69 351.25,142.66 351.5,142.63 351.75,142.87 352,143.11 352.25,143.31 352.5,143.5 352.75,143.19 353,142.89 353.25,143.2 353.5,143.5 353.75,143.21 354,142.91 354.25,143.26 354.5,143.61 354.75,143.49 355,143.36 355.25,143.43 355.5,143.5 355.75,143.57 356,143.63 356.25,143.54 356.5,143.45 356.75,143.11 357,142.77 357.25,142.94 357.5,143.12 357.75,143.13 358,143.15 358.25,143.25" fill="none" stroke="#c8640f" stroke-width="1.35" stroke-linejoin="round"/>
<polyline points="28.5,207.01 28.75,207.05 29,207.09 29.25,207.19 29.5,207.29 29.75,206.98 30,206.67 30.25,206.86 30.5,207.03 30.75,207.12 31,207.19 31.25,207.12 31.5,207.01 31.75,206.44 32,205.8 32.25,205.68 32.5,205.31 32.75,203.86 33,200.45 33.25,191.63 33.3,188.93 33.5,175.4 33.6,168.22 33.75,161.03 33.8,160.47 34,168.25 34.25,185.97 34.3,189 34.5,197.9 34.75,203.05 35,204.94 35.25,206.04 35.5,206.79 35.75,206.88 36,206.87 36.25,206.99 36.5,207.07 36.75,207.44 37,207.8 37.25,207.69 37.5,207.58 37.75,207.44 38,207.29 38.25,207.33 38.5,207.37 38.75,207.5 39,207.63 39.25,207.41 39.5,207.18 39.75,207.51 40,207.83 40.25,207.92 40.5,208.01 40.75,207.85 41,207.69 41.25,207.94 41.5,208.18 41.75,208.24 42,208.29 42.25,208.1 42.5,207.91 42.75,207.98 43,208.06 43.25,207.76 43.5,207.45 43.75,207.43 44,207.4 44.25,207.91 44.5,208.42 44.75,208.04 45,207.65 45.25,207.61 45.5,207.57 45.75,207.94 46,208.3 46.25,208.21 46.5,208.11 46.75,207.74 47,207.36 47.25,207.43 47.5,207.49 47.75,207.38 48,207.25 48.25,207.15 48.5,207.01 48.75,206.65 49,206.2 49.25,206.04 49.5,205.64 49.75,204.36 50,201.31 50.25,193 50.4,183.46 50.5,174.99 50.7,155.75 50.75,151.58 50.9,145.36 51,148.26 51.1,155.75 51.25,170.26 51.4,183.47 51.5,190.26 51.75,200.23 52,203.96 52.25,205.19 52.5,205.83 52.75,206.26 53,206.52 53.25,206.68 53.5,206.76 53.75,207.28 54,207.75 54.25,207.63 54.5,207.43 54.75,207.1 55,206.6 55.25,205.76 55.5,203.82 55.75,198.46 55.9,192.29 56,186.8 56.2,174.33 56.25,171.63 56.4,167.61 56.5,169.5 56.6,174.37 56.75,183.81 56.9,192.4 57,196.83 57.25,203.32 57.5,205.77 57.75,206.35 58,206.85 58.25,207.3 58.5,207.64 58.75,207.67 59,207.65 59.25,207.87 59.5,208.08 59.75,208.1 60,208.12 60.25,208.16 60.5,208.19 60.75,208.47 61,208.75 61.25,208.66 61.5,208.57 61.75,208.6 62,208.63 62.25,208.58 62.5,208.53 62.75,208.64 63,208.75 63.25,208.89 63.5,209.04 63.75,208.79 64,208.53 64.25,208.41 64.5,208.29 64.75,208.52 65,208.75 65.25,208.7 65.5,208.65 65.75,208.88 66,209.11 66.25,208.74 66.5,208.38 66.75,208.8 67,209.23 67.25,208.76 67.5,208.29 67.75,208.59 68,208.88 68.25,208.83 68.5,208.78 68.75,208.72 69,208.65 69.25,208.97 69.5,209.29 69.75,209.19 70,209.09 70.25,208.8 70.5,208.51 70.75,208.7 71,208.88 71.25,208.95 71.5,209.02 71.75,208.7 72,208.39 72.25,208.42 72.5,208.46 72.75,208.74 73,209.03 73.25,209.1 73.5,209.18 73.75,209.03 74,208.89 74.25,208.87 74.5,208.85 74.75,208.9 75,208.95 75.25,208.82 75.5,208.69 75.75,209.03 76,209.37 76.25,209.42 76.5,209.47 76.75,209.21 77,208.95 77.25,208.7 77.5,208.45 77.75,208.66 78,208.87 78.25,209.09 78.5,209.32 78.75,209.06 79,208.8 79.25,208.68 79.5,208.56 79.75,208.61 80,208.66 80.25,208.95 80.5,209.24 80.75,209.19 81,209.15 81.25,208.96 81.5,208.78 81.75,208.97 82,209.16 82.25,209.24 82.5,209.31 82.75,209.43 83,209.54 83.25,209.47 83.5,209.4 83.75,209.18 84,208.96 84.25,209.16 84.5,209.37 84.75,209.43 85,209.49 85.25,209.45 85.5,209.41 85.75,209.33 86,209.24 86.25,209.11 86.5,208.85 86.75,208.65 87,208.11 87.1,207.74 87.25,207.02 87.4,206.23 87.5,205.83 87.6,205.67 87.75,206.01 87.8,206.24 88,207.29 88.1,207.75 88.25,208.27 88.5,208.72 88.75,208.89 89,208.98 89.25,209.2 89.5,209.42 89.75,209.31 90,209.2 90.25,209.27 90.5,209.33 90.75,209.06 91,208.8 91.25,208.73 91.5,208.66 91.75,208.76 92,208.86 92.25,209.04 92.5,209.21 92.75,209.21 93,209.21 93.25,209 93.5,208.8 93.75,208.8 94,208.79 94.25,209.21 94.5,209.63 94.75,209.15 95,208.67 95.25,209.14 95.5,209.61 95.75,209.52 96,209.44 96.25,209.33 96.5,209.22 96.75,209.45 97,209.68 97.25,209.5 97.5,209.33 97.75,208.95 98,208.58 98.25,209.08 98.5,209.59 98.75,209.29 99,208.99 99.25,209.26 99.5,209.52 99.75,209.45 100,209.37 100.25,208.97 100.5,208.57 100.75,208.48 101,208.37 101.25,208.29 101.5,208.18 101.75,208.43 102,208.61 102.25,208.24 102.5,207.71 102.75,206.68 103,205.79 103.25,204.79 103.4,204.21 103.5,203.85 103.7,203.3 103.75,203.21 103.9,203.08 104,203.12 104.1,203.25 104.25,203.6 104.4,204.08 104.5,204.44 104.75,205.36 105,206.17 105.25,206.49 105.5,206.99 105.75,207.28 106,206.71 106.25,204.88 106.5,200.06 106.75,191.91 106.8,190.25 107,186.59 107.2,190.33 107.25,192.01 107.5,200.27 107.75,205.23 108,207.26 108.25,208.35 108.5,208.79 108.75,209.06 109,209.27 109.25,209.26 109.5,209.22 109.75,209.33 110,209.42 110.25,209.01 110.5,208.59 110.75,208.61 111,208.62 111.25,209.11 111.5,209.59 111.75,209.47 112,209.35 112.25,209.19 112.5,209.04 112.75,208.93 113,208.82 113.25,208.93 113.5,209.04 113.75,209.04 114,209.03 114.25,209.1 114.5,209.16 114.75,209.1 115,209.02 115.25,208.82 115.5,208.59 115.75,208.37 116,208.06 116.25,208.02 116.5,206.69 116.75,203.26 116.8,202.21 117,196.95 117.1,194.16 117.25,191.37 117.3,191.15 117.5,194.17 117.75,201.05 117.8,202.23 118,205.68 118.25,207.68 118.5,208 118.75,208.31 119,208.48 119.25,208.78 119.5,209.04 119.75,208.94 120,208.84 120.25,209.24 120.5,209.64 120.75,209.52 121,209.4 121.25,209.37 121.5,209.33 121.75,209.44 122,209.55 122.25,209.34 122.5,209.12 122.75,209.01 123,208.9 123.25,208.94 123.5,208.97 123.75,209.12 124,209.26 124.25,209.28 124.5,209.29 124.75,209.24 125,209.18 125.25,209.21 125.5,209.24 125.75,209.53 126,209.82 126.25,209.37 126.5,208.91 126.75,209.16 127,209.4 127.25,209.36 127.5,209.32 127.75,209.26 128,209.21 128.25,209.45 128.5,209.69 128.75,209.41 129,209.12 129.25,209.02 129.5,208.91 129.75,208.96 130,209.01 130.25,209.45 130.5,209.88 130.75,209.51 131,209.13 131.25,208.97 131.5,208.79 131.75,209.2 132,209.59 132.25,209.29 132.5,208.95 132.75,208.88 133,208.66 133.25,207.36 133.5,205.24 133.75,199.8 133.8,198.13 134,189.79 134.1,185.36 134.25,180.92 134.3,180.58 134.5,185.36 134.75,196.27 134.8,198.14 135,203.61 135.25,206.77 135.5,207.92 135.75,208.35 136,208.22 136.25,208.52 136.5,208.76 136.75,209.16 137,209.54 137.25,209.44 137.5,209.33 137.75,209.52 138,209.7 138.25,209.5 138.5,209.29 138.75,209.58 139,209.86 139.25,209.43 139.5,209 139.75,209.3 140,209.61 140.25,209.37 140.5,209.13 140.75,209.13 141,209.13 141.25,209.49 141.5,209.85 141.75,209.57 142,209.27 142.25,209.25 142.5,209.01 142.75,208.35 142.9,207.59 143,206.92 143.2,205.38 143.25,205.05 143.4,204.56 143.5,204.79 143.6,205.39 143.75,206.55 143.9,207.6 144,208.15 144.25,208.94 144.5,209.24 144.75,209.37 145,209.68 145.25,209.82 145.5,209.95 145.75,209.81 146,209.67 146.25,209.47 146.5,209.26 146.75,209.51 147,209.76 147.25,209.92 147.5,210.08 147.75,210 148,209.92 148.25,209.73 148.5,209.54 148.75,209.51 149,209.49 149.25,209.33 149.5,209.17 149.75,209.54 150,209.91 150.25,209.57 150.5,209.24 150.75,209.27 151,209.31 151.25,209.21 151.5,209.1 151.75,209.18 152,209.25 152.25,209.37 152.5,209.49 152.75,209.54 153,209.59 153.25,209.42 153.5,209.26 153.75,209.39 154,209.52 154.25,209.7 154.5,209.88 154.75,209.51 155,209.13 155.25,209.14 155.5,209.14 155.75,209.32 156,209.49 156.25,209.64 156.5,209.29 156.75,209.03 157,208.31 157.2,207.07 157.25,206.65 157.5,204.17 157.7,203.08 157.75,203.16 157.9,204.17 158,205.17 158.2,207.07 158.25,207.45 158.5,208.69 158.75,209.17 159,209.82 159.25,209.72 159.5,209.58 159.75,209.36 160,209.12 160.25,209.57 160.5,210.01 160.75,210.09 161,210.17 161.25,210.12 161.5,210.08 161.75,209.88 162,209.68 162.25,209.6 162.5,209.52 162.75,209.63 163,209.75 163.25,209.86 163.5,209.97 163.75,210.08 164,210.19 164.25,209.91 164.5,209.63 164.75,209.62 165,209.62 165.25,209.49 165.5,209.36 165.75,209.45 166,209.47 166.25,209.32 166.5,208.94 166.7,208.28 166.75,208.06 167,206.75 167.2,206.17 167.25,206.21 167.4,206.72 167.5,207.24 167.7,208.2 167.75,208.39 168,208.99 168.25,209.17 168.5,209.19 168.75,208.94 169,208.33 169.25,206.69 169.3,206.18 169.5,203.64 169.6,202.3 169.75,200.95 169.8,200.84 170,202.31 170.25,205.65 170.3,206.22 170.5,207.9 170.75,208.87 171,209.22 171.25,209.59 171.5,209.93 171.75,209.62 172,209.29 172.25,209.33 172.5,209.37 172.75,209.41 173,209.46 173.25,209.77 173.5,210.09 173.75,209.79 174,209.49 174.25,209.79 174.5,210.08 174.75,210.14 175,210.2 175.25,210.18 175.5,210.15 175.75,210.12 176,210.08 176.25,209.75 176.5,209.42 176.75,209.56 177,209.7 177.25,209.91 177.5,210.12 177.75,209.8 178,209.48 178.25,209.68 178.5,209.88 178.75,210.03 179,210.18 179.25,210.22 179.5,210.25 179.75,209.93 180,209.61 180.25,209.49 180.5,209.36 180.75,209.31 181,209.27 181.25,209.42 181.5,209.58 181.75,209.71 182,209.84 182.25,209.69 182.5,209.55 182.75,209.84 183,210.14 183.25,210.05 183.5,209.95 183.75,209.94 184,209.92 184.25,210.03 184.5,210.14 184.75,209.86 185,209.58 185.25,209.76 185.5,209.92 185.75,209.75 186,209.56 186.25,209.5 186.5,209.64 186.75,209.48 187,209.08 187.1,208.8 187.25,208.27 187.4,207.68 187.5,207.38 187.6,207.26 187.75,207.51 187.8,207.68 188,208.45 188.1,208.79 188.25,209.17 188.5,209.49 188.75,209.6 189,209.62 189.25,209.57 189.5,209.37 189.7,209.02 189.75,208.89 190,208.17 190.2,207.85 190.25,207.88 190.4,208.18 190.5,208.48 190.7,209.05 190.75,209.16 191,209.53 191.25,209.68 191.5,209.31 191.75,209.71 192,210.1 192.25,210.17 192.5,210.24 192.75,209.77 193,209.3 193.25,209.68 193.5,210.06 193.75,209.7 194,209.35 194.25,209.54 194.5,209.74 194.75,209.68 195,209.63 195.25,209.95 195.5,210.27 195.75,210.01 196,209.75 196.25,209.79 196.5,209.83 196.75,209.74 197,209.64 197.25,209.58 197.5,209.51 197.75,209.48 198,209.45 198.25,209.3 198.5,209.14 198.75,209.49 199,209.19 199.25,208.37 199.4,207.43 199.5,206.6 199.7,204.7 199.75,204.29 199.9,203.68 200,203.96 200.1,204.7 200.25,206.13 200.4,207.44 200.5,208.11 200.75,209.09 201,209.46 201.25,209.76 201.5,209.94 201.75,209.95 202,209.94 202.25,209.74 202.5,209.53 202.75,209.94 203,210.34 203.25,209.85 203.5,209.35 203.75,209.54 204,209.73 204.25,209.67 204.5,209.6 204.75,209.5 205,209.39 205.25,209.78 205.5,210.16 205.75,209.93 206,209.39 206.25,208.94 206.5,207.75 206.6,206.94 206.75,205.36 206.9,203.62 207,202.73 207.1,202.38 207.25,203.13 207.3,203.63 207.5,205.93 207.6,206.94 207.75,208.09 208,209.08 208.25,209.45 208.5,209.19 208.75,209.3 209,209.38 209.25,209.77 209.5,210.14 209.75,209.92 210,209.7 210.25,209.67 210.5,209.64 210.75,209.65 211,209.65 211.25,209.68 211.5,209.7 211.75,209.84 212,209.99 212.25,209.84 212.5,209.69 212.75,209.85 213,210.01 213.25,209.72 213.5,209.43 213.75,209.69 214,209.95 214.25,209.98 214.5,210.01 214.75,209.86 215,209.72 215.25,210.02 215.5,210.32 215.75,210.35 216,210.38 216.25,210.23 216.5,210.07 216.75,209.93 217,209.79 217.25,209.64 217.5,209.48 217.75,209.69 218,209.73 218.25,209.5 218.5,208.94 218.75,208 218.8,207.81 219,207.39 219.2,207.81 219.25,208 219.5,208.94 219.75,209.5 220,209.73 220.25,209.52 220.5,209.49 220.75,209.72 221,209.94 221.25,209.76 221.5,209.59 221.75,209.84 222,210.09 222.25,210.16 222.5,210.23 222.75,209.82 223,209.41 223.25,209.75 223.5,210.1 223.75,209.86 224,209.62 224.25,209.7 224.5,209.78 224.75,209.99 225,210.21 225.25,210.34 225.5,210.47 225.75,210.12 226,209.76 226.25,210 226.5,210.25 226.75,210.02 227,209.8 227.25,210.13 227.5,210.45 227.75,210.03 228,209.61 228.25,209.88 228.5,210.15 228.75,209.84 229,209.52 229.25,209.78 229.5,210.04 229.75,210.14 230,210.24 230.25,210.34 230.5,210.43 230.75,210.35 231,210.27 231.25,210.15 231.5,210.03 231.75,209.95 232,209.87 232.25,209.99 232.5,210.12 232.75,210.13 233,210.13 233.25,210.11 233.5,210.09 233.75,210.14 234,210.19 234.25,210.2 234.5,210.2 234.75,210.28 235,210.36 235.25,209.81 235.5,209.62 235.75,209.15 235.8,209.01 236,208.29 236.1,207.9 236.25,207.52 236.3,207.49 236.5,207.9 236.75,208.85 236.8,209.01 237,209.48 237.25,209.76 237.5,209.86 237.75,210.24 238,210.19 238.25,210.01 238.5,209.82 238.75,210.06 239,210.3 239.25,210.06 239.5,209.82 239.75,210.08 240,210.33 240.25,210.36 240.5,210.38 240.75,210.38 241,210.38 241.25,210.37 241.5,210.35 241.75,210.19 242,209.76 242.25,209.49 242.5,208.82 242.75,207.72 242.8,207.49 243,206.99 243.2,207.49 243.25,207.72 243.5,208.83 243.75,209.5 244,209.77 244.25,209.75 244.5,209.68 244.75,209.9 245,210.12 245.25,210.27 245.5,210.42 245.75,210.13 246,209.85 246.25,209.77 246.5,209.69 246.75,210 247,210.3 247.25,210.39 247.5,210.47 247.75,210.09 248,209.7 248.25,209.67 248.5,209.63 248.75,209.62 249,209.61 249.25,209.85 249.5,210.09 249.75,210.25 250,210.4 250.25,210.08 250.5,209.76 250.75,210.06 251,210.36 251.25,209.96 251.5,209.55 251.75,209.64 252,209.73 252.25,209.91 252.5,210.1 252.75,210.22 253,210.33 253.25,210.19 253.5,210.05 253.75,210.15 254,210.26 254.25,210.08 254.5,209.9 254.75,209.91 255,209.92 255.25,210 255.5,210.08 255.75,209.8 256,209.51 256.25,209.62 256.5,209.73 256.75,209.82 257,209.9 257.25,210.07 257.5,210.24 257.75,209.99 258,209.73 258.25,209.76 258.5,209.79 258.75,210.2 259,210.61 259.25,210.42 259.5,210.24 259.75,210.11 260,209.97 260.25,210.18 260.5,210.39 260.75,210.35 261,210.31 261.25,210.37 261.5,210.42 261.75,210.28 262,210.14 262.25,210.17 262.5,210.2 262.75,209.92 263,209.64 263.25,209.82 263.5,210 263.75,209.98 264,209.96 264.25,209.89 264.5,209.81 264.75,209.87 265,209.93 265.25,210.22 265.5,210.51 265.75,210.14 266,209.77 266.25,209.71 266.5,209.65 266.75,209.77 267,209.89 267.25,209.8 267.5,209.7 267.75,209.61 268,209.52 268.25,210 268.5,210.46 268.75,209.96 269,209.83 269.25,209.49 269.3,209.38 269.5,208.86 269.6,208.59 269.75,208.31 269.8,208.29 270,208.59 270.25,209.27 270.3,209.39 270.5,209.73 270.75,209.92 271,210 271.25,209.78 271.5,210.08 271.75,209.89 272,209.71 272.25,209.88 272.5,210.05 272.75,210.31 273,210.56 273.25,210.57 273.5,210.59 273.75,210.26 274,209.92 274.25,210.1 274.5,209.94 274.75,209.76 275,209.31 275.25,208.57 275.3,208.42 275.5,208.09 275.7,208.42 275.75,208.57 276,209.32 276.25,209.76 276.5,209.94 276.75,209.78 277,209.58 277.25,209.78 277.5,209.97 277.75,210.2 278,210.43 278.25,210.42 278.5,210.41 278.75,210.38 279,210.35 279.25,210.5 279.5,210.65 279.75,210.31 280,209.98 280.25,210.16 280.5,210.34 280.75,210.4 281,210.46 281.25,210.52 281.5,210.58 281.75,210.55 282,210.51 282.25,210.51 282.5,210.51 282.75,210.21 283,209.91 283.25,209.92 283.5,209.92 283.75,210.04 284,210.14 284.25,209.81 284.5,209.86 284.75,209.6 285,208.93 285.1,208.47 285.25,207.58 285.4,206.59 285.5,206.09 285.6,205.89 285.75,206.31 285.8,206.59 286,207.9 286.1,208.47 286.25,209.12 286.5,209.68 286.75,209.89 287,209.76 287.25,209.85 287.5,209.91 287.75,209.84 288,209.77 288.25,209.77 288.5,209.77 288.75,210.03 289,210.29 289.25,210.11 289.5,209.93 289.75,209.79 290,209.65 290.25,210.06 290.5,210.47 290.75,210.56 291,210.64 291.25,210.25 291.5,209.85 291.75,210.11 292,210.36 292.25,210.03 292.5,209.7 292.75,209.78 293,209.85 293.25,209.82 293.5,209.79 293.75,210.06 294,210.32 294.25,210.28 294.5,210.23 294.75,210.38 295,210.52 295.25,210.43 295.5,210.35 295.75,210.4 296,210.45 296.25,210.52 296.5,210.59 296.75,210.43 297,210.27 297.25,210.07 297.5,209.87 297.75,209.84 298,209.81 298.25,210.19 298.5,210.57 298.75,210.55 299,210.53 299.25,210.44 299.5,210.34 299.75,210.51 300,210.68 300.25,210.6 300.5,210.52 300.75,210.3 301,210.08 301.25,209.96 301.5,209.84 301.75,209.97 302,210.1 302.25,210.37 302.5,210.64 302.75,210.63 303,210.61 303.25,210.13 303.5,209.64 303.75,209.64 304,209.64 304.25,209.88 304.5,210.13 304.75,210.38 305,210.64 305.25,210.62 305.5,210.6 305.75,210.58 306,210.55 306.25,210.13 306.5,209.71 306.75,209.78 307,209.86 307.25,210.17 307.5,210.48 307.75,210.3 308,210.11 308.25,210.04 308.5,209.97 308.75,210.33 309,210.68 309.25,210.15 309.5,209.63 309.75,209.89 310,210.14 310.25,210.36 310.5,210.57 310.75,210.47 311,210.36 311.25,210.46 311.5,210.56 311.75,210.21 312,209.86 312.25,210.01 312.5,210.16 312.75,210.37 313,210.58 313.25,210.1 313.5,209.6 313.75,209.73 314,209.85 314.25,210.11 314.5,210.36 314.75,209.83 315,209.29 315.25,209.53 315.5,209.75 315.75,209.61 316,209.46 316.25,209.03 316.5,208.6 316.75,208.83 317,209.07 317.25,208.37 317.5,208.23 317.75,208.11 317.8,208.09 318,208.03 318.1,208.01 318.25,208 318.3,208 318.5,208.02 318.75,208.08 318.8,208.1 319,208.18 319.25,208.32 319.5,208.47 319.75,208.71 320,209.35 320.25,209.46 320.5,209.56 320.75,209.49 321,209.4 321.25,209.27 321.5,209.13 321.75,209.64 322,210.13 322.25,210.09 322.5,210.04 322.75,210.17 323,210.3 323.25,209.96 323.5,209.62 323.75,209.86 324,210.1 324.25,210.3 324.5,210.49 324.75,210.46 325,210.42 325.25,210.13 325.5,209.83 325.75,209.92 326,210.01 326.25,210.09 326.5,210.16 326.75,210.17 327,210.18 327.25,210.47 327.5,210.77 327.75,210.74 328,210.72 328.25,210.21 328.5,209.7 328.75,210.04 329,210.38 329.25,210.12 329.5,209.86 329.75,210.26 330,210.66 330.25,210.48 330.5,210.3 330.75,210.5 331,210.71 331.25,210.72 331.5,210.73 331.75,210.74 332,210.76 332.25,210.34 332.5,209.92 332.75,209.86 333,209.81 333.25,210.2 333.5,210.59 333.75,210.42 334,210.26 334.25,210.43 334.5,210.6 334.75,210.42 335,210.24 335.25,210.22 335.5,210.21 335.75,210.39 336,210.56 336.25,210.36 336.5,210.16 336.75,210.23 337,210.31 337.25,210.25 337.5,210.2 337.75,210.35 338,210.51 338.25,210.18 338.5,209.85 338.75,210.06 339,210.28 339.25,210.34 339.5,210.41 339.75,210.47 340,210.53 340.25,210.65 340.5,210.77 340.75,210.48 341,210.19 341.25,210.51 341.5,210.84 341.75,210.7 342,210.56 342.25,210.38 342.5,210.21 342.75,210.31 343,210.41 343.25,210.3 343.5,210.19 343.75,210.35 344,210.51 344.25,210.17 344.5,209.82 344.75,210.3 345,210.78 345.25,210.49 345.5,210.19 345.75,210 346,209.81 346.25,209.85 346.5,209.9 346.75,210.04 347,210.18 347.25,210.14 347.5,210.09 347.75,210.41 348,210.73 348.25,210.48 348.5,210.22 348.75,210.52 349,210.82 349.25,210.47 349.5,210.12 349.75,210.16 350,210.19 350.25,210.53 350.5,210.86 350.75,210.81 351,210.76 351.25,210.81 351.5,210.85 351.75,210.4 352,209.95 352.25,209.92 352.5,209.9 352.75,210.25 353,210.59 353.25,210.39 353.5,210.2 353.75,210.07 354,209.95 354.25,209.94 354.5,209.93 354.75,210.06 355,210.19 355.25,210.18 355.5,210.18 355.75,210.37 356,210.57 356.25,210.75 356.5,210.93 356.75,210.48 357,210.03 357.25,210.37 357.5,210.72 357.75,210.61 358,210.5 358.25,210.65" fill="none" stroke="#6b3f0a" stroke-width="1.35" stroke-linejoin="round"/>
<path d="M102.9,193.7L102.9,196.5M101.69,194.4L104.11,195.8M101.69,195.8L104.11,194.4" stroke="#222" stroke-width="1" fill="none"/>
<path d="M319.1,198.9L319.1,201.7M317.89,199.6L320.31,201M317.89,201L320.31,199.6" stroke="#222" stroke-width="1" fill="none"/>
<rect x="27.8" y="2.1" width="331.09999999999997" height="243.70000000000002" fill="none" stroke="#1c1c1c" stroke-width="1.85"/>
<line x1="40.67" y1="2.1" x2="40.67" y2="4.6" stroke="#1c1c1c" stroke-width="1.7"/>
<line x1="40.67" y1="245.8" x2="40.67" y2="243.8" stroke="#1c1c1c" stroke-width="1.7"/>
<line x1="61.9" y1="2.1" x2="61.9" y2="6.6" stroke="#1c1c1c" stroke-width="1.7"/>
<line x1="61.9" y1="245.8" x2="61.9" y2="242" stroke="#1c1c1c" stroke-width="1.7"/>
<line x1="83.13" y1="2.1" x2="83.13" y2="4.6" stroke="#1c1c1c" stroke-width="1.7"/>
<line x1="83.13" y1="245.8" x2="83.13" y2="243.8" stroke="#1c1c1c" stroke-width="1.7"/>
<line x1="104.37" y1="2.1" x2="104.37" y2="6.6" stroke="#1c1c1c" stroke-width="1.7"/>
<line x1="104.37" y1="245.8" x2="104.37" y2="242" stroke="#1c1c1c" stroke-width="1.7"/>
<line x1="125.6" y1="2.1" x2="125.6" y2="4.6" stroke="#1c1c1c" stroke-width="1.7"/>
<line x1="125.6" y1="245.8" x2="125.6" y2="243.8" stroke="#1c1c1c" stroke-width="1.7"/>
<line x1="146.83" y1="2.1" x2="146.83" y2="6.6" stroke="#1c1c1c" stroke-width="1.7"/>
<line x1="146.83" y1="245.8" x2="146.83" y2="242" stroke="#1c1c1c" stroke-width="1.7"/>
<line x1="168.06" y1="2.1" x2="168.06" y2="4.6" stroke="#1c1c1c" stroke-width="1.7"/>
<line x1="168.06" y1="245.8" x2="168.06" y2="243.8" stroke="#1c1c1c" stroke-width="1.7"/>
<line x1="189.3" y1="2.1" x2="189.3" y2="6.6" stroke="#1c1c1c" stroke-width="1.7"/>
<line x1="189.3" y1="245.8" x2="189.3" y2="242" stroke="#1c1c1c" stroke-width="1.7"/>
<line x1="210.53" y1="2.1" x2="210.53" y2="4.6" stroke="#1c1c1c" stroke-width="1.7"/>
<line x1="210.53" y1="245.8" x2="210.53" y2="243.8" stroke="#1c1c1c" stroke-width="1.7"/>
<line x1="231.76" y1="2.1" x2="231.76" y2="6.6" stroke="#1c1c1c" stroke-width="1.7"/>
<line x1="231.76" y1="245.8" x2="231.76" y2="242" stroke="#1c1c1c" stroke-width="1.7"/>
<line x1="252.99" y1="2.1" x2="252.99" y2="4.6" stroke="#1c1c1c" stroke-width="1.7"/>
<line x1="252.99" y1="245.8" x2="252.99" y2="243.8" stroke="#1c1c1c" stroke-width="1.7"/>
<line x1="274.23" y1="2.1" x2="274.23" y2="6.6" stroke="#1c1c1c" stroke-width="1.7"/>
<line x1="274.23" y1="245.8" x2="274.23" y2="242" stroke="#1c1c1c" stroke-width="1.7"/>
<line x1="295.46" y1="2.1" x2="295.46" y2="4.6" stroke="#1c1c1c" stroke-width="1.7"/>
<line x1="295.46" y1="245.8" x2="295.46" y2="243.8" stroke="#1c1c1c" stroke-width="1.7"/>
<line x1="316.69" y1="2.1" x2="316.69" y2="6.6" stroke="#1c1c1c" stroke-width="1.7"/>
<line x1="316.69" y1="245.8" x2="316.69" y2="242" stroke="#1c1c1c" stroke-width="1.7"/>
<line x1="337.92" y1="2.1" x2="337.92" y2="4.6" stroke="#1c1c1c" stroke-width="1.7"/>
<line x1="337.92" y1="245.8" x2="337.92" y2="243.8" stroke="#1c1c1c" stroke-width="1.7"/>
<text x="61.9" y="258.8" font-size="9.5" font-weight="bold" text-anchor="middle" fill="#111">15</text>
<text x="104.37" y="258.8" font-size="9.5" font-weight="bold" text-anchor="middle" fill="#111">20</text>
<text x="146.83" y="258.8" font-size="9.5" font-weight="bold" text-anchor="middle" fill="#111">25</text>
<text x="189.3" y="258.8" font-size="9.5" font-weight="bold" text-anchor="middle" fill="#111">30</text>
<text x="231.76" y="258.8" font-size="9.5" font-weight="bold" text-anchor="middle" fill="#111">35</text>
<text x="274.23" y="258.8" font-size="9.5" font-weight="bold" text-anchor="middle" fill="#111">40</text>
<text x="316.69" y="258.8" font-size="9.5" font-weight="bold" text-anchor="middle" fill="#111">45</text>
<text x="359.15" y="258.8" font-size="9.5" font-weight="bold" text-anchor="middle" fill="#111">50</text>
<text x="193.4" y="279" font-size="12" font-weight="bold" text-anchor="middle" fill="#111">2θ / °</text>
<text transform="translate(10.8,115.6) rotate(-90)" font-size="12" font-weight="bold" text-anchor="middle" fill="#111">Intensity / a. u.</text>
<text x="338.6" y="25.2" font-size="12.4" text-anchor="middle" fill="#111">(a)</text>
<text x="355.5" y="86" font-size="7.7" font-weight="bold" text-anchor="end" fill="#ff8c1a">pelletized sheet (590 MPa)</text>
<text x="355.5" y="154" font-size="7.7" font-weight="bold" text-anchor="end" fill="#c8640f">LPSCl/HNBR sheet</text>
<text x="355.5" y="221" font-size="7.7" font-weight="bold" text-anchor="end" fill="#6b3f0a">pristine LPSCl powder</text>
<rect x="478.6" y="2.3" width="47.3" height="243.54999999999998" fill="#ffa0a0"/>
<rect x="576.3" y="2.3" width="52.2" height="243.54999999999998" fill="#afd2e6"/>
<text x="503.5" y="26.2" font-size="13.2" font-weight="bold" text-anchor="middle" fill="#ff0000" stroke="#ff0000" stroke-width="0.25">S-S</text>
<text x="481.7" y="39.8" font-size="8.6" font-weight="bold" fill="#ff0000" stroke="#ff0000" stroke-width="0.15">e.g. Li<tspan font-size="6.2" dy="2.3">2</tspan><tspan dy="-2.3">-S</tspan><tspan font-size="6.2" dy="2.3">n</tspan></text>
<text x="587.8" y="27.3" font-size="13.2" font-weight="bold" fill="#1b22a0" stroke="#1b22a0" stroke-width="0.2">PS<tspan font-size="8.6" dy="3.9">4</tspan><tspan font-size="8.6" dx="0.4" dy="-10.7">3-</tspan></text>
<polyline points="414.8,79.1 417.4,80.9 420.1,79.8 422.7,83 425.4,80.4 428.1,81.8 430.7,79.8 434.3,82.7 439.6,80.9 445.8,84.8 448.4,84.8 452,82.5 456.4,81.6 460,84.5 462.6,83.9 465.3,86.6 467.9,82.7 470.6,85.2 473.2,86.6 475.9,84.8 479.4,86.9 483,82.7 486.5,83 491,82.1 494.5,85.2 498,83.9 500,83.3 503.7,84.1 507.4,86.6 511.2,83.3 513.6,84.6 518.6,80.9 522.3,84.6 526,83.3 528.5,80.9 533.5,80.9 536,83.3 539.7,82.1 544.7,84.6 548.4,82.1 552.6,79.1 555.8,81.6 560.8,81.6 564.5,84.6 567,81.6 570.7,80.9 573.2,78.4 576.9,79.6 580,77.7 581.8,77.2 583.9,79 586.2,71.9 588.5,65.7 590.6,61.8 592.8,58.6 595.1,46.2 597.4,40.9 599.5,39.4 601.3,38.7 603,45.3 605.7,54.2 608.4,63 611.6,70.7 614.6,72.4 616.3,74.6 618.7,78.5 621.1,74.9 623.4,74.6 625,76 627.1,79.1 630,81.6 632.8,79.6 635.6,80.1 638.5,78.7 641.3,82.7 647,80.1 651.2,81.6 656.9,82 661.2,83.8 664,81.7 666.8,82 670.4,83 673.9,81.6 676.8,82 678.9,83.4 681.7,81.3 684.6,82 686.7,84.1 689.5,81.3 693.1,79.9 695.9,82.7 698.8,78.2 701.6,83.4 704.4,81 708.7,81.6 711.5,81 715.8,82.7" fill="none" stroke="#ff8c1a" stroke-width="2.2" stroke-linejoin="round" stroke-linecap="round"/>
<polyline points="414.8,143.3 418,140.6 421,145.9 423.6,146.8 426.3,145.6 429.3,143.8 431.6,147.7 434.6,152.7 437.5,149.5 439.9,151.3 443.1,144.2 445.8,149.8 448.4,147.7 451.6,153.4 454.6,150.4 458.2,150.9 462.3,149.8 465.8,152.1 471.5,151.6 474.7,152.7 477.1,150.9 480,153.9 483,149.1 485.6,158.3 488.3,154.5 491.8,153 494.5,153.4 497.2,155.7 499.8,150.9 502.8,153.8 505.7,149.6 509.9,151 514.2,153.8 518.4,149.6 521.3,151 524.1,149 527,155.8 530.6,153.8 534,151 536.9,151.8 539.7,150.1 542.6,153 544.8,157.5 547.7,149 549.6,156.7 552.5,149.6 556.2,150.1 559.6,147.6 562.4,150.1 565.8,148.2 569.5,147.6 572.3,150.1 576,146.7 579.4,148.2 582.1,149.6 584.9,148.2 587.8,135.4 590.6,131.1 593.4,124 596.3,111.3 599.1,99.9 602,101.9 604.8,112.7 607.6,124 610.5,134 613.3,135.4 616.1,146.7 619,149.6 621.8,146.7 626.1,149.6 628.9,151.8 631.7,147.3 635,147.7 638.2,149.4 641.4,146.6 644.6,151.5 647.8,149.4 651,153 655.2,150.9 659.5,153 661.6,151.5 664.8,153 666.9,151.5 670.1,153.6 673.3,156.2 678.6,148.1 681.8,154.5 686.1,153 691.4,151.9 697.8,151.5 699.9,153 702,160 704.1,149.8 707.3,153 710.5,154.5 713.7,152.3 716.3,151.5" fill="none" stroke="#c8640f" stroke-width="2.2" stroke-linejoin="round" stroke-linecap="round"/>
<polyline points="414.8,212.7 417.4,212.7 420.1,216.9 422.7,216.6 425.8,212.7 429,218 431.6,215.7 434.6,213 437.8,215.7 440.5,219.2 444,217.5 447.5,218 451.1,216.9 454.6,220.1 458.2,217.5 460.8,218.3 465.3,216.9 468.8,218.7 474.1,215.2 477.7,218.7 480.3,220.1 483.9,218.3 488.3,218.7 493.6,221.5 496.3,218.3 498.9,220.1 500,218 502.1,216.9 504.7,224.4 507.4,219.5 510.6,218.6 513.2,220.1 516,218.6 519.1,220.7 522.3,220.1 525.5,216.5 528.7,218.6 533,219.5 536.6,217.3 540.4,218.6 544.7,222.9 547.2,218 552.1,217.3 555.7,213.1 558.5,216.9 561.7,219.5 564.9,218 568.1,218.6 570.2,219.5 573.4,214.8 576.2,213.7 580,217.6 582.1,215.1 584.7,214 587.4,206.6 590.2,204.5 592.7,198.1 595.3,186.4 598,171.6 601.2,167.9 604.4,170.5 607.2,182.2 609.7,193.8 611.8,200.6 615,207 619.3,211.3 622.5,213 626.1,215.1 628.9,218.8 633.2,219.7 635,219.5 638.5,218 641.7,222.5 644.7,219.8 648.3,219.8 651,220.7 653.6,223.7 656.3,222.5 659.8,223 661.9,224.2 664.8,221.9 667.2,223.3 670.4,225.5 673.1,225.5 676.1,226.9 678.9,221.9 682,221.9 684.6,223 687.8,225.5 690.8,221.2 693.5,222.5 697,221.6 699.7,222.5 702,221.2 705,222.5 707.6,223 710.8,228.3 713.8,222.5 716.5,221.2" fill="none" stroke="#6b3f0a" stroke-width="2.2" stroke-linejoin="round" stroke-linecap="round"/>
<rect x="413.9" y="2.3" width="303.0" height="243.54999999999998" fill="none" stroke="#1c1c1c" stroke-width="1.85"/>
<line x1="432.98" y1="2.3" x2="432.98" y2="4.8" stroke="#1c1c1c" stroke-width="1.8"/>
<line x1="432.98" y1="245.85" x2="432.98" y2="243.55" stroke="#1c1c1c" stroke-width="1.8"/>
<line x1="451.9" y1="2.3" x2="451.9" y2="6.7" stroke="#1c1c1c" stroke-width="1.8"/>
<line x1="451.9" y1="245.85" x2="451.9" y2="241.05" stroke="#1c1c1c" stroke-width="1.8"/>
<line x1="470.82" y1="2.3" x2="470.82" y2="4.8" stroke="#1c1c1c" stroke-width="1.8"/>
<line x1="470.82" y1="245.85" x2="470.82" y2="243.55" stroke="#1c1c1c" stroke-width="1.8"/>
<line x1="489.75" y1="2.3" x2="489.75" y2="6.7" stroke="#1c1c1c" stroke-width="1.8"/>
<line x1="489.75" y1="245.85" x2="489.75" y2="241.05" stroke="#1c1c1c" stroke-width="1.8"/>
<line x1="508.67" y1="2.3" x2="508.67" y2="4.8" stroke="#1c1c1c" stroke-width="1.8"/>
<line x1="508.67" y1="245.85" x2="508.67" y2="243.55" stroke="#1c1c1c" stroke-width="1.8"/>
<line x1="527.59" y1="2.3" x2="527.59" y2="6.7" stroke="#1c1c1c" stroke-width="1.8"/>
<line x1="527.59" y1="245.85" x2="527.59" y2="241.05" stroke="#1c1c1c" stroke-width="1.8"/>
<line x1="546.51" y1="2.3" x2="546.51" y2="4.8" stroke="#1c1c1c" stroke-width="1.8"/>
<line x1="546.51" y1="245.85" x2="546.51" y2="243.55" stroke="#1c1c1c" stroke-width="1.8"/>
<line x1="565.43" y1="2.3" x2="565.43" y2="6.7" stroke="#1c1c1c" stroke-width="1.8"/>
<line x1="565.43" y1="245.85" x2="565.43" y2="241.05" stroke="#1c1c1c" stroke-width="1.8"/>
<line x1="584.35" y1="2.3" x2="584.35" y2="4.8" stroke="#1c1c1c" stroke-width="1.8"/>
<line x1="584.35" y1="245.85" x2="584.35" y2="243.55" stroke="#1c1c1c" stroke-width="1.8"/>
<line x1="603.27" y1="2.3" x2="603.27" y2="6.7" stroke="#1c1c1c" stroke-width="1.8"/>
<line x1="603.27" y1="245.85" x2="603.27" y2="241.05" stroke="#1c1c1c" stroke-width="1.8"/>
<line x1="622.19" y1="2.3" x2="622.19" y2="4.8" stroke="#1c1c1c" stroke-width="1.8"/>
<line x1="622.19" y1="245.85" x2="622.19" y2="243.55" stroke="#1c1c1c" stroke-width="1.8"/>
<line x1="641.12" y1="2.3" x2="641.12" y2="6.7" stroke="#1c1c1c" stroke-width="1.8"/>
<line x1="641.12" y1="245.85" x2="641.12" y2="241.05" stroke="#1c1c1c" stroke-width="1.8"/>
<line x1="660.04" y1="2.3" x2="660.04" y2="4.8" stroke="#1c1c1c" stroke-width="1.8"/>
<line x1="660.04" y1="245.85" x2="660.04" y2="243.55" stroke="#1c1c1c" stroke-width="1.8"/>
<line x1="678.96" y1="2.3" x2="678.96" y2="6.7" stroke="#1c1c1c" stroke-width="1.8"/>
<line x1="678.96" y1="245.85" x2="678.96" y2="241.05" stroke="#1c1c1c" stroke-width="1.8"/>
<line x1="697.88" y1="2.3" x2="697.88" y2="4.8" stroke="#1c1c1c" stroke-width="1.8"/>
<line x1="697.88" y1="245.85" x2="697.88" y2="243.55" stroke="#1c1c1c" stroke-width="1.8"/>
<line x1="413.9" y1="124.1" x2="415.5" y2="124.1" stroke="#1c1c1c" stroke-width="1.2"/>
<line x1="716.9" y1="124.1" x2="715.3" y2="124.1" stroke="#1c1c1c" stroke-width="1.2"/>
<text x="414.06" y="258.8" font-size="9.5" font-weight="bold" text-anchor="middle" fill="#111">550</text>
<text x="451.9" y="258.8" font-size="9.5" font-weight="bold" text-anchor="middle" fill="#111">525</text>
<text x="489.75" y="258.8" font-size="9.5" font-weight="bold" text-anchor="middle" fill="#111">500</text>
<text x="527.59" y="258.8" font-size="9.5" font-weight="bold" text-anchor="middle" fill="#111">475</text>
<text x="565.43" y="258.8" font-size="9.5" font-weight="bold" text-anchor="middle" fill="#111">450</text>
<text x="603.27" y="258.8" font-size="9.5" font-weight="bold" text-anchor="middle" fill="#111">425</text>
<text x="641.12" y="258.8" font-size="9.5" font-weight="bold" text-anchor="middle" fill="#111">400</text>
<text x="678.96" y="258.8" font-size="9.5" font-weight="bold" text-anchor="middle" fill="#111">375</text>
<text x="716.8" y="258.8" font-size="9.5" font-weight="bold" text-anchor="middle" fill="#111">350</text>
<text x="511.1" y="280.5" font-size="11.75" font-weight="bold" fill="#111">Wavenumber / cm<tspan font-size="7.6" dy="-4.6">-1</tspan></text>
<text transform="translate(397.8,122.6) rotate(-90)" font-size="11.9" font-weight="bold" text-anchor="middle" fill="#111">Relative Intensity / a. u.</text>
<text x="698.7" y="25.2" font-size="12.4" text-anchor="middle" fill="#111">(b)</text>
<text x="708.5" y="94.8" font-size="7.7" font-weight="bold" text-anchor="end" fill="#ff8c1a">pelletized sheet (590 MPa)</text>
<text x="710.8" y="170" font-size="7.7" font-weight="bold" text-anchor="end" fill="#c8640f">LPSCl/HNBR sheet</text>
<text x="710.5" y="238" font-size="7.7" font-weight="bold" text-anchor="end" fill="#6b3f0a">pristine LPSCl powder</text>
</svg>
</body></html>
